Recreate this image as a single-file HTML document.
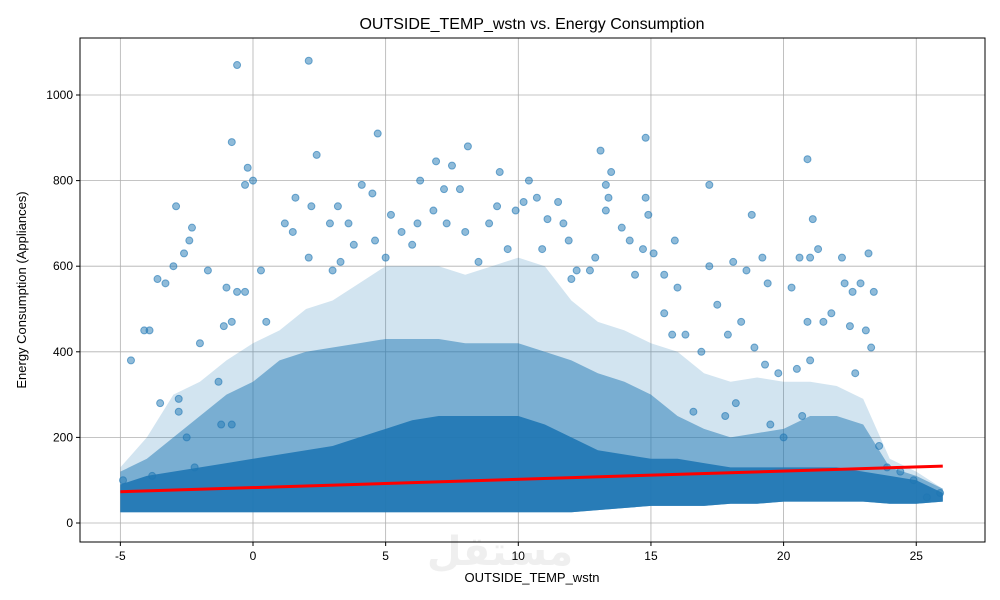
<!DOCTYPE html>
<html><head><meta charset="utf-8"><style>
body{margin:0;background:#fff;}
svg{display:block;font-family:"Liberation Sans","DejaVu Sans",sans-serif;}
</style></head><body>
<svg id="chart" width="1000" height="600">
<rect width="1000" height="600" fill="#fff"/>
<g id="grid"></g>
<g id="bands"></g>
<g id="points"></g>
<g id="reg"></g>
<rect x="80" y="38" width="905" height="504" fill="none" stroke="#000" stroke-width="1"/>
<g id="ticks"></g>
<text x="532" y="29" text-anchor="middle" font-size="16">OUTSIDE_TEMP_wstn vs. Energy Consumption</text>
<text x="532" y="582" text-anchor="middle" font-size="13">OUTSIDE_TEMP_wstn</text>
<text x="26" y="290" text-anchor="middle" font-size="13" transform="rotate(-90 26 290)">Energy Consumption (Appliances)</text>
<text x="500" y="565" text-anchor="middle" font-size="40" font-weight="bold" fill="#000" opacity="0.06" font-family="'DejaVu Sans',sans-serif">مستقل</text>
</svg>
<script>
const xTicks=[-5,0,5,10,15,20,25];
const yTicks=[0,200,400,600,800,1000];
const colX=[-5,-4,-3,-2,-1,0,1,2,3,4,5,6,7,8,9,10,11,12,13,14,15,16,17,18,19,20,21,22,23,24,25,26];
const denseTop=[90,110,120,130,140,150,160,170,180,200,220,240,250,250,250,250,230,200,170,160,150,150,140,130,130,130,130,130,120,110,100,70];
const denseBot=[25,25,25,25,25,25,25,25,25,25,25,25,25,25,25,25,25,25,30,35,40,40,40,45,45,50,50,50,50,45,45,50];
const midTop=[120,150,200,250,300,330,380,400,410,420,430,430,430,420,420,420,400,380,350,330,300,250,220,200,210,220,250,250,230,130,110,80];
const outerTop=[130,200,300,330,380,420,450,500,520,560,600,600,600,580,600,620,600,520,470,450,420,400,350,330,340,330,330,320,290,150,120,80];
const ptX=[-0.6,2.1,-0.8,-0.2,0,-0.3,2.4,4.7,6.9,7.5,8.1,13.1,14.8,9.3,10.4,20.9,6.3,7.2,7.8,4.1,4.5,-2.9,-2.3,-2.4,-1.7,-3,-2.6,-3.6,-3.3,-4.1,-3.9,-4.6,-3.5,-2.8,-2.8,-2.5,-2,-1,-0.8,-0.6,-0.3,1.2,1.6,2.2,2.9,3.2,3.6,3.8,3.3,2.1,1.5,5.2,5.6,6.2,6.8,7.3,8.0,8.9,9.2,9.9,10.2,10.7,11.1,11.5,11.7,12.7,13.4,13.5,13.3,13.3,13.9,14.2,14.8,14.9,15.1,15.9,17.2,17.2,18.1,18.8,19.2,19.4,18.6,20.3,20.6,21,21.1,21.3,22.2,22.3,22.6,22.9,23.2,23.4,23.1,23.3,22.5,21.8,21.5,20.9,21,20.5,22.7,15.5,15.8,16.3,16.9,17.5,17.9,18.4,18.9,19.3,19.8,16,15.5,14.4,14.7,12.9,12.2,12,11.9,0.3,0.5,-1.1,-1.3,-1.2,-0.8,-2.2,-3.8,-4.9,25.9,25.4,24.9,24.4,23.6,23.9,20,20.7,19.5,18.2,17.8,16.6,5,6,8.5,9.6,10.9,4.6,3];
const ptY=[1070,1080,890,830,800,790,860,910,845,835,880,870,900,820,800,850,800,780,780,790,770,740,690,660,590,600,630,570,560,450,450,380,280,290,260,200,420,550,470,540,540,700,760,740,700,740,700,650,610,620,680,720,680,700,730,700,680,700,740,730,750,760,710,750,700,590,760,820,790,730,690,660,760,720,630,660,790,600,610,720,620,560,590,550,620,620,710,640,620,560,540,560,630,540,450,410,460,490,470,470,380,360,350,490,440,440,400,510,440,470,410,370,350,550,580,580,640,620,590,570,660,590,470,460,330,230,230,130,110,100,70,60,100,120,180,130,200,250,230,280,250,260,620,650,610,640,640,660,590];
const regX=[-5,26];
const regY=[73,133];

const NS='http://www.w3.org/2000/svg';
const X0=80,X1=985,Y0=38,Y1=542;
function sx(v){return 253+v*26.53;}
function sy(v){return 523-v*0.428;}
function mk(t,a,p){const e=document.createElementNS(NS,t);for(const k in a)e.setAttribute(k,a[k]);p.appendChild(e);return e;}
const grid=document.getElementById('grid'),ticks=document.getElementById('ticks');
xTicks.forEach(t=>{
  const l=mk('line',{x1:sx(t),x2:sx(t),y1:Y0,y2:Y1,stroke:'#b0b0b0','stroke-width':0.8},grid);
  
  
  mk('line',{x1:sx(t),x2:sx(t),y1:Y1,y2:Y1+4,stroke:'#000'},ticks);
  const tx=mk('text',{x:sx(t),y:Y1+18,'text-anchor':'middle','font-size':12},ticks);tx.textContent=t;
  
  
});
yTicks.forEach(t=>{
  const l=mk('line',{x1:X0,x2:X1,y1:sy(t),y2:sy(t),stroke:'#b0b0b0','stroke-width':0.8},grid);
  
  
  mk('line',{x1:X0-4,x2:X0,y1:sy(t),y2:sy(t),stroke:'#000'},ticks);
  const tx=mk('text',{x:X0-7,y:sy(t)+4,'text-anchor':'end','font-size':12},ticks);tx.textContent=t;
  
  
});
function area(top,bot){let d='';colX.forEach((x,i)=>{d+=(i?'L':'M')+sx(x)+','+sy(top[i]);});for(let i=colX.length-1;i>=0;i--)d+='L'+sx(colX[i])+','+sy(bot[i]);return d+'Z';}
const bands=document.getElementById('bands');
const outer=mk('path',{d:area(outerTop,denseBot),fill:'#1f77b4','fill-opacity':0.2},bands);


const mid=mk('path',{d:area(midTop,denseBot),fill:'#1f77b4','fill-opacity':0.5},bands);


const den=mk('path',{d:area(denseTop,denseBot),fill:'#1f77b4','fill-opacity':0.9},bands);


const pts=document.getElementById('points');
ptX.forEach((x,i)=>{
  const c=mk('circle',{cx:sx(x),cy:sy(ptY[i]),r:3.5,fill:'#1f77b4','fill-opacity':0.5,stroke:'#1f77b4','stroke-opacity':0.6},pts);
  
  
});
const rl=mk('line',{x1:sx(regX[0]),y1:sy(regY[0]),x2:sx(regX[1]),y2:sy(regY[1]),stroke:'#ff0000','stroke-width':3},document.getElementById('reg'));


</script>
</body></html>
